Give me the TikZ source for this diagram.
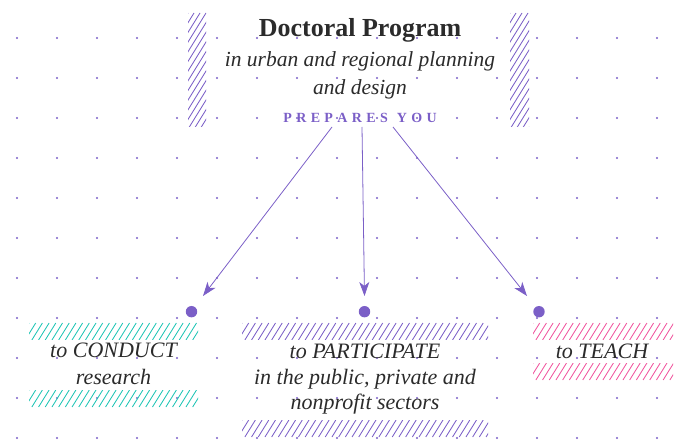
\documentclass[tikz,border=0pt]{standalone}
\usepackage{fontspec}
\setmainfont{Liberation Serif}
\usetikzlibrary{arrows.meta}
\definecolor{vio}{HTML}{7B5FC7}
\definecolor{tealb}{HTML}{1FC4B5}
\definecolor{pinkb}{HTML}{F0559E}
\definecolor{ink}{HTML}{2B2B2B}
\newcommand\lsp{\kern4.4pt}
\newcommand\hatchrect[6]{%
  \begin{scope}
    \clip (#1,#2) rectangle (#3,#4);
    \pgfmathsetmacro\hh{#4-#2}
    \foreach \i in {0,...,80}{
      \pgfmathsetmacro\xs{#1-0.62*\hh+#6*\i}
      \draw[#5,line width=0.85pt] (\xs,#4) -- ++(0.62*\hh,-\hh);
    }
  \end{scope}}
\tikzset{
  gdot/.style={fill=vio},
  ttl/.style={anchor=base,text=ink,font=\bfseries\fontsize{26}{30}\selectfont},
  sub/.style={anchor=base,text=ink,font=\itshape\fontsize{21.5}{25}\selectfont},
  boxtxt/.style={anchor=base,text=ink,font=\itshape\fontsize{22}{26}\selectfont},
  prep/.style={anchor=base,text=vio,font=\fontsize{14}{16}\selectfont},
  conn/.style={vio,line width=0.8pt,-{Stealth[length=14pt,width=10pt,inset=4pt]}},
  bullet/.style={circle,fill=vio,inner sep=0pt,minimum size=11.4pt}
}
\begin{document}
\begin{tikzpicture}[x=1pt,y=-1pt]
\useasboundingbox (0,0) rectangle (685,443);
% dot grid
\foreach \x in {17,57,...,657}
  \foreach \y in {38,78,...,438}
    \fill[gdot] (\x,\y) circle (1.2);
% hatched bars
\hatchrect{188}{13}{206}{127}{vio}{6}
\hatchrect{510}{13}{529}{127}{vio}{6}
\hatchrect{29}{323}{198}{340}{tealb}{6.7}
\hatchrect{29}{390}{198}{407}{tealb}{6.7}
\hatchrect{242}{323}{488}{340}{vio}{6.7}
\hatchrect{242}{420}{488}{437}{vio}{6.7}
\hatchrect{533}{323}{673}{340}{pinkb}{6.7}
\hatchrect{533}{363}{673}{380}{pinkb}{6.7}
% title
\node[ttl] (title) at (360,36.7) {Doctoral Program};
\node[sub] (sub1) at (360,66.7) {in urban and regional planning};
\node[sub] (sub2) at (360,95) {and design};
\node[prep] (prepares) at (360,122.7) {\textbf{P\lsp R\lsp E\lsp P\lsp A\lsp R\lsp E\lsp S\lsp\lsp Y\lsp O\lsp U}};
% connectors
\coordinate (s1) at (332,127);
\coordinate (s2) at (362,127);
\coordinate (s3) at (393,127);
\coordinate (e1) at (203,296);
\coordinate (e2) at (364.5,296);
\coordinate (e3) at (527,296);
\draw[conn] (s1) -- (e1);
\draw[conn] (s2) -- (e2);
\draw[conn] (s3) -- (e3);
\node[bullet] (b1) at (191.5,311.7) {};
\node[bullet] (b2) at (364.5,311.7) {};
\node[bullet] (b3) at (539,311.7) {};
% boxes
\node[boxtxt] (c1) at (113.5,358) {to CONDUCT};
\node[boxtxt] (c2) at (113.5,384) {research};
\node[boxtxt] (p1) at (365,359) {to PARTICIPATE};
\node[boxtxt] (p2) at (365,384) {in the public, private and};
\node[boxtxt] (p3) at (365,409) {nonprofit sectors};
\node[boxtxt] (t1) at (602,359) {to TEACH};
\end{tikzpicture}
\end{document}
